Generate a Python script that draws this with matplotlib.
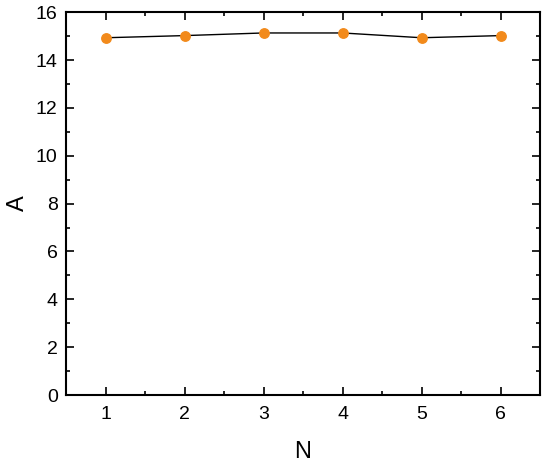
import matplotlib
matplotlib.use("Agg")
import matplotlib.pyplot as plt
from matplotlib.ticker import MultipleLocator

plt.rcParams['font.family'] = ['Liberation Sans', 'DejaVu Sans']

# datos
n_values = [1, 2, 3, 4, 5, 6]
a_values = [14.93, 15.02, 15.13, 15.13, 14.93, 15.02]

fig = plt.figure(figsize=(5.5, 4.67), dpi=100)
ax = fig.add_axes([0.12, 0.154, 0.862, 0.82])

ax.plot(n_values, a_values, color='black', linewidth=1.0, zorder=2)
ax.plot(n_values, a_values, linestyle='none', marker='o', markersize=6.8,
        color='#F28A1B', zorder=3)

# ejes
ax.set_xlim(0.5, 6.5)
ax.set_ylim(0, 16)
ax.xaxis.set_major_locator(MultipleLocator(1))
ax.xaxis.set_minor_locator(MultipleLocator(0.5))
ax.yaxis.set_major_locator(MultipleLocator(2))
ax.yaxis.set_minor_locator(MultipleLocator(1))

ax.tick_params(which='both', direction='in', top=True, right=True,
               width=1.2, labelsize=14)
ax.tick_params(which='major', length=6)
ax.tick_params(which='minor', length=3)
ax.tick_params(axis='x', pad=8)
ax.tick_params(axis='y', pad=6)
for s in ax.spines.values():
    s.set_linewidth(1.5)

ax.set_xlabel('N', fontsize=17, labelpad=13)
ax.set_ylabel('A', fontsize=17, labelpad=5)

fig.savefig('out.png', dpi=100)
